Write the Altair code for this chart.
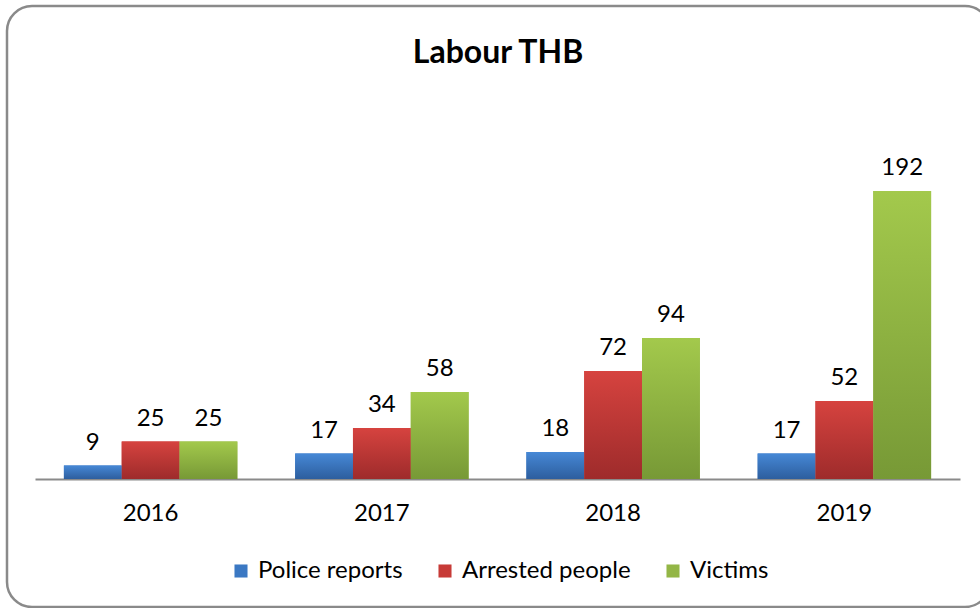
import altair as alt
import pandas as pd

years = ["2016", "2017", "2018", "2019"]
series = ["Police reports", "Arrested people", "Victims"]
police = [9, 17, 18, 17]
arrested = [25, 34, 72, 52]
victims = [25, 58, 94, 192]
title_text = "Labour THB"

solid = ["#3b78c3", "#c73b37", "#93b646"]
grad_top = ["#4688d6", "#d6433f", "#a3c94c"]
grad_bot = ["#2d5e9e", "#9e2b2b", "#779936"]

rows = []
for i, y in enumerate(years):
    rows.append({"year": y, "series": series[0], "value": police[i]})
    rows.append({"year": y, "series": series[1], "value": arrested[i]})
    rows.append({"year": y, "series": series[2], "value": victims[i]})
df = pd.DataFrame(rows)

FONT = "Lato"
FS = 24
W, H = 925, 300

x = alt.X("year:N", sort=years, title=None,
          scale=alt.Scale(paddingInner=0.25, paddingOuter=0.125),
          axis=alt.Axis(labelAngle=0, labelFontSize=FS, labelFont=FONT, labelColor="#000",
                        labelPadding=22, ticks=False, domainColor="#8a8a8a", domainWidth=2,
                        grid=False))
xo = alt.XOffset("series:N", sort=series, scale=alt.Scale(paddingInner=0, paddingOuter=0))
y = alt.Y("value:Q", scale=alt.Scale(domain=[0, 200]), axis=None)

base = alt.Chart(df)

border = alt.Chart(pd.DataFrame({"a": [0]})).mark_rect(
    fill="white", fillOpacity=0, stroke="#8a8a8a", strokeWidth=2.5, cornerRadius=25
).encode(x=alt.value(-28), x2=alt.value(955), y=alt.value(-173), y2=alt.value(428))

title = alt.Chart(pd.DataFrame({"t": [title_text]})).mark_text(
    fontSize=32, font=FONT, fontWeight="bold", color="#000", align="center", baseline="middle"
).encode(x=alt.value(463), y=alt.value(-126), text="t:N")

bars = base.mark_bar().encode(
    x=x, xOffset=xo, y=y,
    color=alt.Color("series:N", sort=series,
                    scale=alt.Scale(domain=series, range=solid),
                    legend=alt.Legend(title=None, orient="none", direction="horizontal",
                                      legendX=194, legendY=380, symbolType="square",
                                      symbolSize=170, symbolStrokeWidth=0,
                                      labelFontSize=FS, labelFont=FONT, labelColor="#000",
                                      labelLimit=0, columnPadding=30, labelOffset=5))
)

grad_layers = []
for i, s in enumerate(series):
    g = alt.Gradient(gradient="linear", x1=0, y1=0, x2=0, y2=1,
                     stops=[alt.GradientStop(offset=0, color=grad_top[i]),
                            alt.GradientStop(offset=1, color=grad_bot[i])])
    grad_layers.append(
        base.transform_filter(alt.datum.series == s).mark_bar(fill=g).encode(
            x=x, xOffset=xo, y=y)
    )

labels = base.mark_text(baseline="bottom", dy=-11, fontSize=FS, font=FONT, color="#000").encode(
    x=x, xOffset=xo, y=y, text="value:Q")

chart = alt.layer(border, title, bars, *grad_layers, labels).properties(
    width=W, height=H,
    background="white",
    autosize=alt.AutoSizeParams(type="none"),
    padding={"left": 35, "top": 179, "right": 20, "bottom": 129},
).configure_view(strokeWidth=0)

chart.save("out.html", embed_options={"renderer": "svg", "actions": False})
